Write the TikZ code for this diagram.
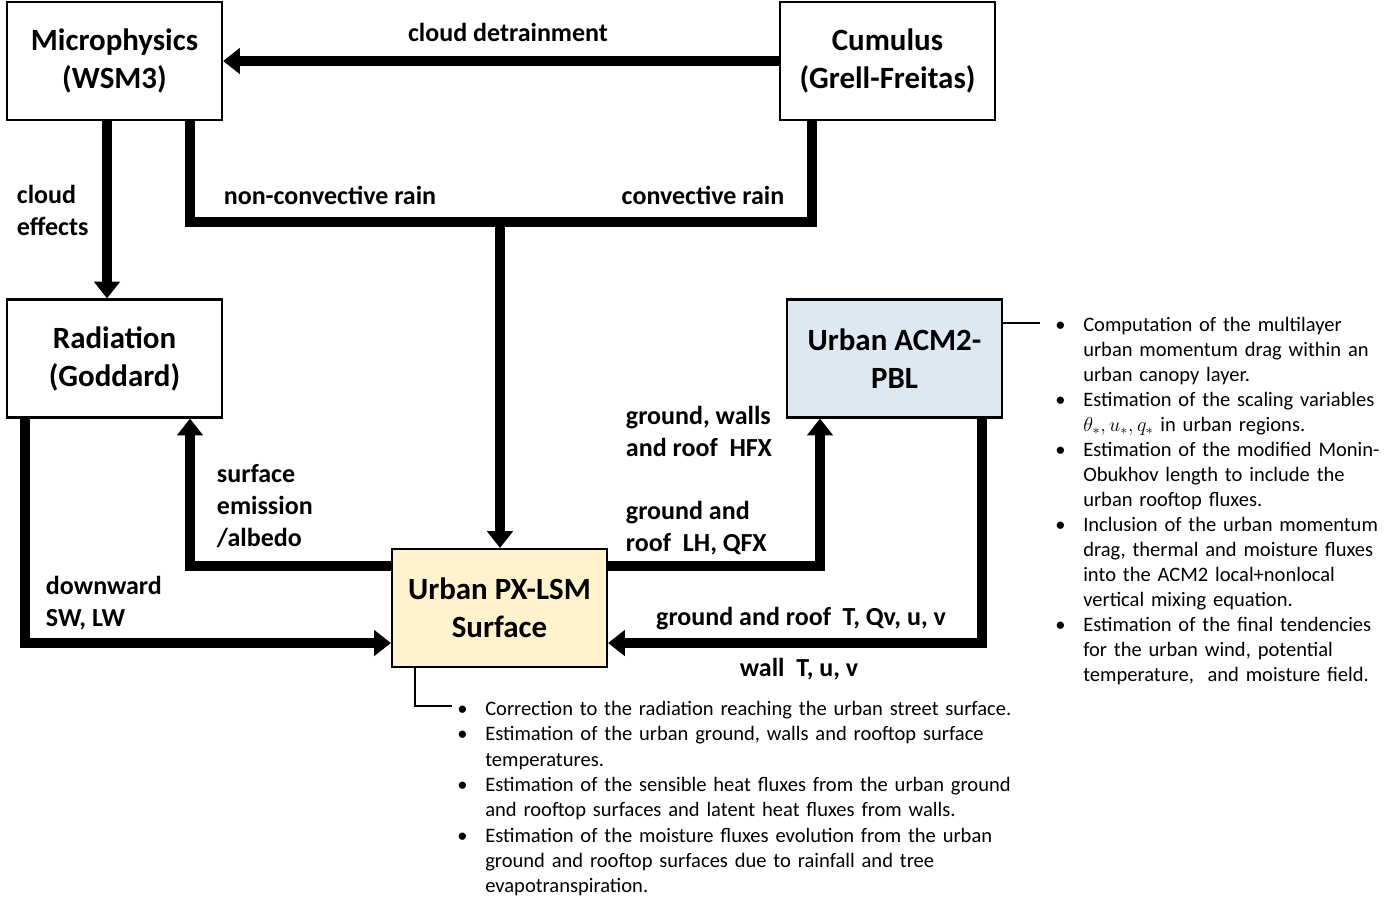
\documentclass[tikz,border=0pt]{standalone}
\usepackage{fontspec}
\setmainfont{Carlito}
\usetikzlibrary{arrows.meta}
\tikzset{
    box/.style={draw, line width=1.5pt, minimum width=5.375cm, minimum height=2.95cm, align=center,
        font=\fontsize{22}{27}\selectfont\bfseries},
    flow/.style={line width=7pt},
    arr/.style={flow, -{Triangle[length=12pt, width=18pt]}},
    lbl/.style={align=left, font=\fontsize{18.5}{22.7}\selectfont\bfseries},
    thin/.style={line width=1pt}
}
\newcommand{\bl}[1]{\par\noindent\hangindent=0.7cm\hangafter=1\makebox[0.7cm][l]{\textbullet}#1\par}
\begin{document}
\begin{tikzpicture}[x=0.025cm, y=-0.025cm]
    \useasboundingbox (0,0) rectangle (1390,904);

    \node[box](MP) at (114.5,61) {Microphysics\\(WSM3)};
    \node[box](CU) at (887.5,61) {Cumulus\\(Grell-Freitas)};
    \node[box](RA) at (114.5,358.5) {Radiation\\(Goddard)};
    \node[box, fill={rgb,255:red,222;green,232;blue,243}](PBL) at (894.5,358.5) {Urban ACM2-\\PBL};
    \node[box, fill={rgb,255:red,255;green,242;blue,204}](LSM) at (499.5,608) {Urban PX-LSM\\Surface};

    % connectors
    \draw[arr] (CU.west) -- (MP.east);
    \draw[arr] (MP.south -| 107,0) -- (RA.north -| 107,0);
    \coordinate (rainL) at (190,222);
    \coordinate (rainR) at (812,222);
    \draw[flow] (MP.south -| rainL) -- (rainL) -- (rainR) -- (CU.south -| rainR);
    \draw[arr] (500,222) -- (LSM.north -| 500,0);
    \draw[arr] (LSM.west |- 0,566) -- (190,566) -- (RA.south -| 190,0);
    \draw[arr] (RA.south -| 25,0) -- (25,643) -- (LSM.west |- 0,643);
    \draw[arr] (LSM.east |- 0,566) -- (820,566) -- (PBL.south -| 820,0);
    \draw[arr] (PBL.south -| 982,0) -- (982,643) -- (LSM.east |- 0,643);

    % labels
    \node[lbl] at (508,32) {cloud detrainment};
    \node[lbl, anchor=west] at (12,210) {cloud\\effects};
    \node[lbl] at (330,195) {non-convective rain};
    \node[lbl] at (703,195) {convective rain};
    \node[lbl, anchor=west] at (212,506) {surface\\emission\\/albedo};
    \node[lbl, anchor=west] at (41,603) {downward\\SW, LW};
    \node[lbl, anchor=west] at (621,431) {ground, walls\\and roof~~HFX};
    \node[lbl, anchor=west] at (621,528) {ground and\\roof~~LH, QFX};
    \node[lbl] at (801,619) {ground and roof~~T, Qv, u, v};
    \node[lbl] at (799,669) {wall~~T, u, v};

    % notes
    \draw[thin] (PBL.east |- 0,323) -- (1040,323);
    \draw[thin] (415,667) -- (415,706) -- (452,706);
    \node[anchor=north west, inner sep=0pt, text width=12cm, font=\fontsize{14.6}{17.8}\selectfont](notePBL) at (1055,306) {\raggedright
        \bl{Computation of the multilayer\newline urban momentum drag within an\newline urban canopy layer.}
        \bl{Estimation of the scaling variables\newline $\theta_*, u_*, q_*$ in urban regions.}
        \bl{Estimation of the modified Monin-\newline Obukhov length to include the\newline urban rooftop fluxes.}
        \bl{Inclusion of the urban momentum\newline drag, thermal and moisture fluxes\newline into the ACM2 local+nonlocal\newline vertical mixing equation.}
        \bl{Estimation of the final tendencies\newline for the urban wind, potential\newline temperature,~ and moisture field.}};
    \node[anchor=north west, inner sep=0pt, text width=15cm, font=\fontsize{14.6}{18}\selectfont](noteLSM) at (457,690) {\raggedright
        \bl{Correction to the radiation reaching the urban street surface.}
        \bl{Estimation of the urban ground, walls and rooftop surface\newline temperatures.}
        \bl{Estimation of the sensible heat fluxes from the urban ground\newline and rooftop surfaces and latent heat fluxes from walls.}
        \bl{Estimation of the moisture fluxes evolution from the urban\newline ground and rooftop surfaces due to rainfall and tree\newline evapotranspiration.}};
\end{tikzpicture}
\end{document}
